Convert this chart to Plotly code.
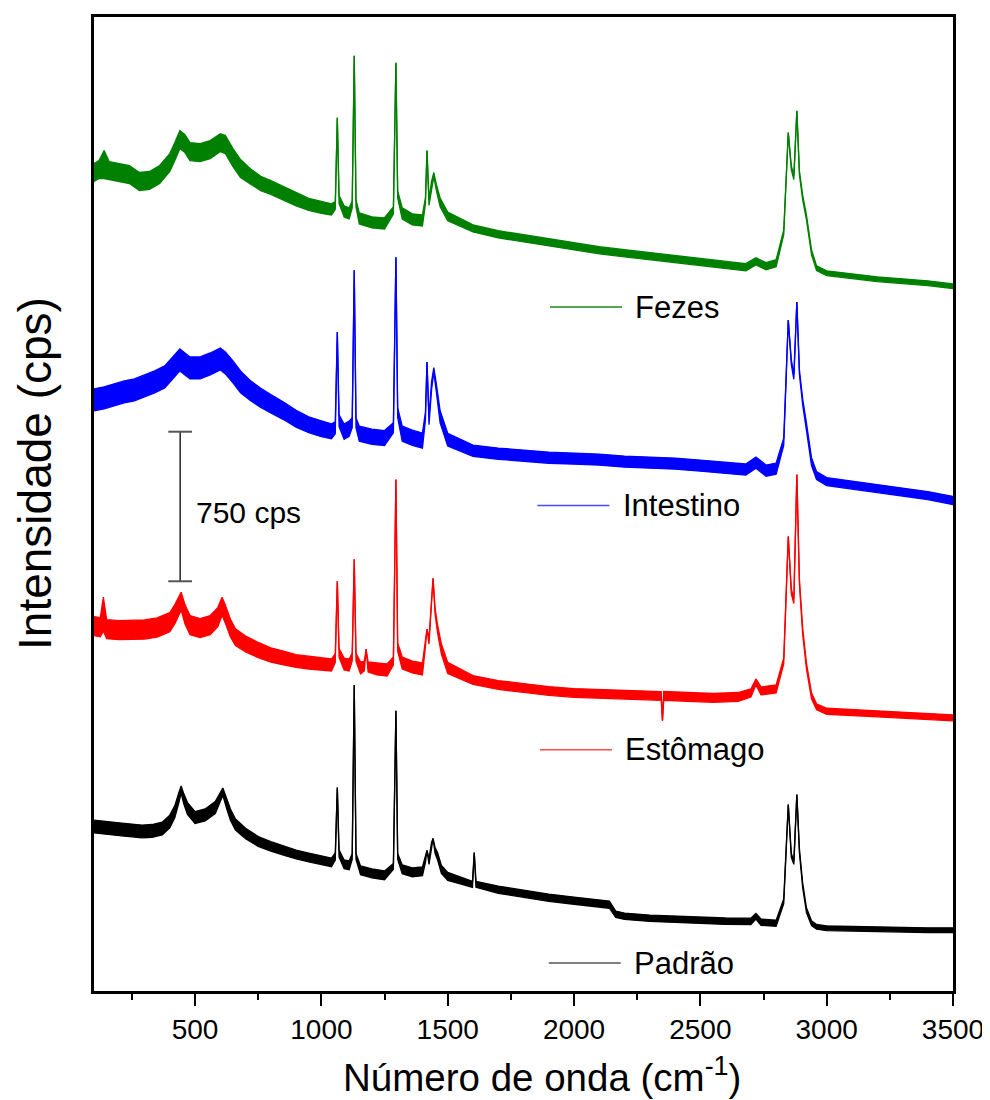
import plotly.graph_objects as go

# Raman spectra (stacked, offset intensity in cps).
# *_y  : middle of the noisy trace;  *_nw : half-width of the noise band (cps)
fezes_x = [100,120,140,160,200,240,280,320,360,400,420,440,460,480,520,560,600,620,650,680,
           720,760,800,850,900,950,1000,1040,
           1055,1063,1070,1090,1110,1122,1130,1137,1150,1200,1250,1285,1295,1302,1320,1360,1400,1412,1418,1426,1436,1445,1455,1470,1500,
           1600,1700,1800,1900,2000,2100,2200,2300,2400,2500,2600,2680,2720,2760,2800,
           2830,2848,2860,2870,2882,2892,2905,2920,2940,2960,3000,3200,3400,3500]
fezes_y = [4150,4165,4190,4160,4150,4140,4105,4110,4140,4200,4255,4315,4295,4255,4250,4265,4300,4290,4225,4170,
           4130,4095,4075,4045,4015,3990,3975,3965,
           3985,4425,4015,3955,3945,3990,4735,3995,3920,3900,3895,3960,4700,4040,3945,3915,3910,4010,4260,4000,4090,4140,4075,4000,3930,
           3870,3840,3820,3800,3780,3760,3745,3730,3715,3700,3688,3675,3705,3680,3695,
           3850,4350,4175,4125,4460,4150,4025,3925,3750,3670,3645,3615,3595,3580]
fezes_nw = [45,45,70,45,45,45,45,45,45,45,45,45,45,45,45,45,45,45,45,45,
            38,36,35,34,32,30,30,28,
            20,0,20,28,28,18,0,18,28,28,28,18,0,18,28,28,28,15,0,15,15,10,15,22,22,
            18,18,18,18,18,18,18,18,18,18,18,18,18,18,18,
            12,0,10,10,0,10,12,12,12,12,12,12,12,12]

intestino_x = [100,140,180,220,260,300,340,380,420,440,460,480,520,560,600,620,650,680,
               720,760,800,850,900,950,1000,1040,
               1055,1063,1070,1090,1110,1122,1130,1137,1150,1200,1250,1285,1295,1302,1320,1360,1400,1412,1418,1426,1436,1445,1455,1470,1500,
               1600,1700,1800,1900,2000,2100,2200,2300,2400,2500,2600,2680,2720,2760,2800,
               2830,2848,2860,2870,2882,2892,2905,2920,2940,2960,3000,3200,3400,3500]
intestino_y = [3010,3020,3035,3050,3060,3080,3100,3125,3185,3210,3190,3170,3170,3190,3215,3195,3150,3100,
               3055,3020,2990,2955,2915,2885,2865,2852,
               2870,3350,2905,2850,2865,2895,3660,2895,2840,2825,2818,2870,3725,2945,2840,2820,2805,2930,3200,2905,3080,3160,3070,2925,2810,
               2755,2740,2730,2720,2715,2710,2700,2695,2690,2680,2670,2660,2695,2655,2665,
               2800,3410,3200,3125,3500,3150,3000,2875,2700,2630,2600,2565,2530,2505]
intestino_nw = [55,55,55,55,55,55,55,55,55,55,55,55,55,55,55,55,55,55,
                50,48,46,44,42,40,40,38,
                30,0,30,38,38,25,0,25,38,38,38,25,0,25,38,38,38,20,0,20,20,12,20,30,32,
                28,28,28,28,28,28,28,28,28,28,28,28,28,28,28,
                18,0,12,12,0,12,15,18,20,20,20,20,20,20]

estomago_x = [100,125,137,150,200,250,300,350,400,420,445,460,480,520,560,590,607,620,640,660,
              700,750,800,850,900,950,1000,1040,
              1055,1063,1070,1090,1110,1122,1130,1137,1155,1170,1177,1185,1220,1260,1285,1295,1302,1320,1360,1400,1412,1418,1426,1436,1442,1450,1460,1475,1500,
              1600,1700,1800,1900,2000,2100,2200,2300,2345,2350,2355,2450,2550,2650,2700,2720,2740,2800,
              2830,2848,2860,2870,2882,2892,2905,2920,2940,2960,3000,3200,3400,3500]
estomago_y = [1875,1870,1935,1860,1855,1855,1858,1868,1895,1935,2000,1935,1880,1865,1880,1920,1975,1935,1865,1820,
              1785,1755,1730,1715,1700,1692,1685,1680,
              1715,2100,1740,1685,1680,1720,2210,1720,1665,1675,1760,1670,1660,1655,1700,2610,1770,1690,1670,1660,1790,1860,1800,1990,2115,1950,1860,1760,1665,
              1605,1580,1565,1550,1540,1535,1530,1525,1525,1400,1525,1520,1515,1520,1540,1595,1550,1560,
              1700,2325,2050,2000,2635,2100,1850,1675,1525,1470,1448,1435,1422,1415]
estomago_nw = [48,48,85,48,48,48,48,48,48,48,45,48,48,48,48,48,45,45,44,42,
               40,38,36,34,32,32,30,30,
               22,0,22,30,30,20,0,20,30,25,0,25,30,30,20,0,20,30,30,30,15,0,15,15,0,15,20,25,28,
               22,22,22,22,22,22,22,22,22,0,22,22,22,22,20,15,20,20,
               15,0,12,12,0,12,15,15,15,15,15,15,15,15]

padrao_x = [100,130,170,210,250,290,330,370,400,420,437,445,455,470,500,540,580,600,610,625,640,660,
            700,750,800,850,900,950,1000,1040,
            1055,1063,1070,1090,1110,1122,1130,1137,1155,1200,1250,1285,1295,1302,1320,1360,1400,1412,1418,1426,1436,1442,1450,1460,1475,1500,
            1550,1598,1605,1612,1700,1800,1900,2000,2100,2140,2165,2200,2300,2400,2500,2600,2700,2720,2740,2800,
            2830,2848,2860,2870,2882,2892,2905,2920,2940,2960,3000,3200,3400,3500]
padrao_y = [870,865,858,855,850,845,848,860,895,945,1020,1055,1010,960,915,928,965,1020,1045,985,930,880,
            835,795,770,750,730,715,700,690,
            720,1065,735,680,675,720,1580,720,650,635,625,670,1450,720,655,640,645,705,750,695,775,810,750,720,655,620,
            600,580,740,580,553,533,513,498,482,478,430,420,410,405,400,395,394,420,390,385,
            495,980,725,690,1030,750,575,450,385,367,360,354,350,350]
padrao_nw = [32,32,32,32,32,32,32,32,32,30,25,18,25,30,30,30,30,25,18,25,28,28,
             26,25,24,23,22,22,22,22,
             18,0,18,22,22,15,0,15,22,22,22,15,0,15,22,22,22,15,0,15,15,0,15,18,20,20,
             18,15,0,15,18,18,18,18,18,18,16,16,16,16,16,16,16,14,16,15,
             12,0,10,10,0,10,12,12,12,12,12,12,12,12]

series_names = ["Fezes", "Intestino", "Estômago", "Padrão"]
series_colors = ["#008000", "#0000FF", "#FF0000", "#000000"]
label_colors = ["#1a8a1a", "#4a4aff", "#ff4a4a", "#555555"]
series_x = [fezes_x, intestino_x, estomago_x, padrao_x]
series_y = [fezes_y, intestino_y, estomago_y, padrao_y]
series_nw = [fezes_nw, intestino_nw, estomago_nw, padrao_nw]

# label positions (data coords): line start, line end, y
label_pos = [(1905, 2190, 3475), (1855, 2140, 2480), (1865, 2150, 1255), (1900, 2185, 185)]

scale_bar_cps = 750
scale_bar_bottom = 2100

x_ticks = [500, 1000, 1500, 2000, 2500, 3000, 3500]

FONT = "Liberation Sans, Arial, sans-serif"

fig = go.Figure()
for name, color, xs, ys, nw in zip(series_names, series_colors, series_x, series_y, series_nw):
    assert len(xs) == len(ys) == len(nw), (name, len(xs), len(ys), len(nw))
    lo = [y - w for y, w in zip(ys, nw)]
    hi = [y + w for y, w in zip(ys, nw)]
    fig.add_trace(go.Scatter(x=xs, y=lo, mode="lines", name=name,
                             line=dict(color=color, width=1.3), showlegend=False,
                             hoverinfo="skip"))
    fig.add_trace(go.Scatter(x=xs, y=hi, mode="lines", name=name, fill="tonexty",
                             fillcolor=color, line=dict(color=color, width=1.3),
                             showlegend=False))

shapes = []
annotations = []
for (x0, x1, yy), name, color in zip(label_pos, series_names, label_colors):
    shapes.append(dict(type="line", xref="x", yref="y", x0=x0, x1=x1, y0=yy, y1=yy,
                       line=dict(color=color, width=1.5)))
    annotations.append(dict(x=x1 + 45, y=yy, xref="x", yref="y", text=name, showarrow=False,
                            xanchor="left", yanchor="middle",
                            font=dict(family=FONT, size=31, color="black")))

# scale bar
bx = 441
shapes.append(dict(type="line", xref="x", yref="y", x0=bx, x1=bx,
                   y0=scale_bar_bottom, y1=scale_bar_bottom + scale_bar_cps,
                   line=dict(color="black", width=1.3)))
for yy in [scale_bar_bottom, scale_bar_bottom + scale_bar_cps]:
    shapes.append(dict(type="line", xref="x", yref="y", x0=bx - 47, x1=bx + 47, y0=yy, y1=yy,
                       line=dict(color="#555555", width=2)))
annotations.append(dict(x=bx + 55, y=scale_bar_bottom + scale_bar_cps / 2 - 30, xref="x", yref="y",
                        text=f"{scale_bar_cps} cps", showarrow=False, xanchor="left",
                        yanchor="middle", font=dict(family=FONT, size=30, color="black")))

# axis titles
annotations.append(dict(x=-0.0685, y=0.531, xref="paper", yref="paper", text="Intensidade (cps)",
                        textangle=-90, showarrow=False, xanchor="center", yanchor="middle",
                        font=dict(family=FONT, size=46, color="black")))
annotations.append(dict(x=0.522, y=-0.086, xref="paper", yref="paper",
                        text="Número de onda (cm<sup>-1</sup>)",
                        showarrow=False, xanchor="center", yanchor="middle",
                        font=dict(family=FONT, size=38.5, color="black")))

fig.update_layout(
    width=982, height=1092,
    margin=dict(l=86, r=37, t=6, b=109),
    plot_bgcolor="white", paper_bgcolor="white",
    font=dict(family=FONT, size=28, color="black"),
    shapes=shapes, annotations=annotations,
    showlegend=False,
)
fig.update_xaxes(
    range=[100, 3500], tickvals=x_ticks, ticktext=[str(t) for t in x_ticks],
    ticks="outside", ticklen=12, tickwidth=2, tickcolor="black",
    minor=dict(dtick=250, tick0=0, ticks="outside", ticklen=6, tickwidth=2, tickcolor="black"),
    showline=True, linewidth=2.5, linecolor="black", mirror=True,
    showgrid=False, zeroline=False,
    tickfont=dict(family=FONT, size=28),
)
fig.update_yaxes(
    range=[45, 4930], showticklabels=False, ticks="",
    showline=True, linewidth=3, linecolor="black", mirror=True,
    showgrid=False, zeroline=False,
)

fig.write_html("out.html")
